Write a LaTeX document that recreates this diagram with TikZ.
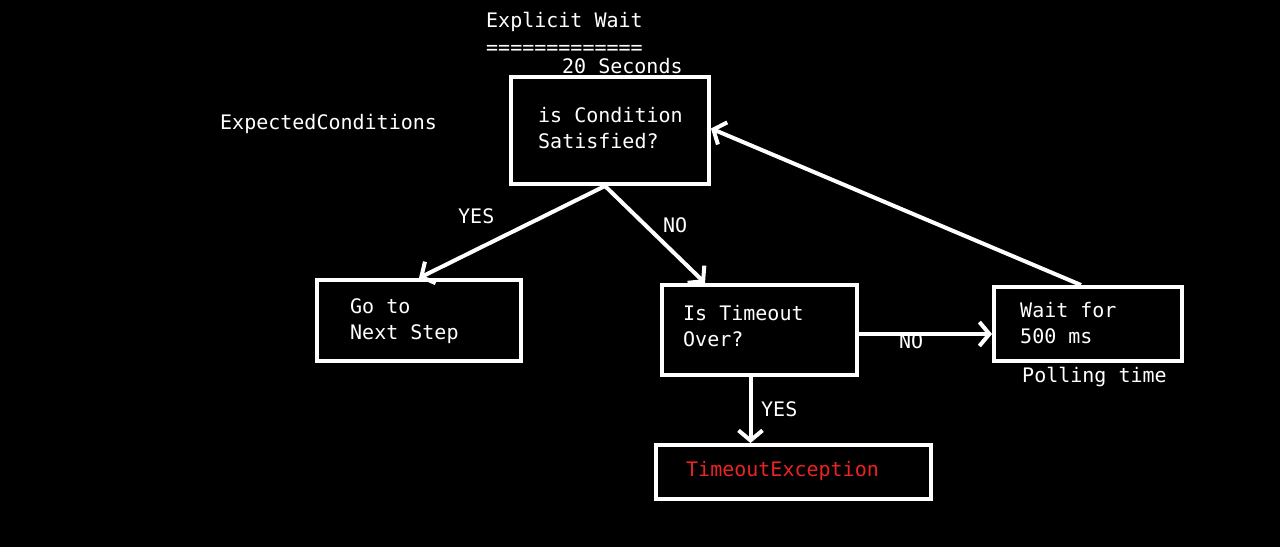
\documentclass[tikz,border=0pt]{standalone}
\usepackage{fontspec}
\newfontfamily\monofam{DejaVu Sans Mono}
\usetikzlibrary{arrows.meta,calc}
\definecolor{errred}{RGB}{235,35,35}
\begin{document}
\begin{tikzpicture}[x=1pt,y=-1pt,
  box/.style={draw=white, line width=4pt, rectangle, inner sep=0pt},
  txt/.style={text=white, font=\fontsize{20}{26}\selectfont\monofam, inner sep=0pt, align=left, anchor=base west},
  arr/.style={draw=white, line width=4pt, -{Straight Barb[length=10pt,width=24pt]}}]
\fill[black] (0,0) rectangle (1280,547);
\useasboundingbox (0,0) rectangle (1280,547);
% boxes
\node[box, minimum width=198, minimum height=107] (b1) at (610,130.5) {};
\node[box, minimum width=204, minimum height=81] (b2) at (419,320.5) {};
\node[box, minimum width=195, minimum height=90] (b3) at (759.5,330) {};
\node[box, minimum width=188, minimum height=74] (b4) at (1088,324) {};
\node[box, minimum width=275, minimum height=54] (b5) at (793.5,472) {};
% texts
\node[txt] (title) at (486,27) {Explicit Wait};
\node[txt] (rule) at (486,54) {=============};
\node[txt] (secs) at (562,73) {20 Seconds};
\node[txt] (ec) at (220,129) {ExpectedConditions};
\node[txt] (t1) at ([xshift=29]b1.west |- 0,148) {is Condition\\Satisfied?};
\node[txt] (t2) at ([xshift=35]b2.west |- 0,339) {Go to\\Next Step};
\node[txt] (t3) at ([xshift=23]b3.west |- 0,346) {Is Timeout\\Over?};
\node[txt] (t4) at ([xshift=28]b4.west |- 0,343) {Wait for\\500 ms};
\node[txt] (poll) at (1022,382) {Polling time};
\node[txt, text=errred] (t5) at (686,476) {TimeoutException};
% connectors
\coordinate (s1) at ([xshift=-5]b1.south);
\draw[arr] (s1) -- (b2.north);
\draw[arr] (s1) -- ([xshift=45]b3.north west);
\coordinate (s3) at ([xshift=-9]b3.south);
\draw[arr] (s3) -- (s3 |- b5.north);
\coordinate (s4) at ([yshift=-4]b3.east);
\draw[arr] (s4) -- (s4 -| b4.west);
\draw[arr] ([xshift=-7]b4.north) -- ([yshift=2]b1.east);
% labels
\node[txt] (yes1) at (458,223) {YES};
\node[txt] (no1) at (663,232) {NO};
\node[txt] (yes2) at (761,416) {YES};
\node[txt] (no2) at (899,348) {NO};
\end{tikzpicture}
\end{document}
